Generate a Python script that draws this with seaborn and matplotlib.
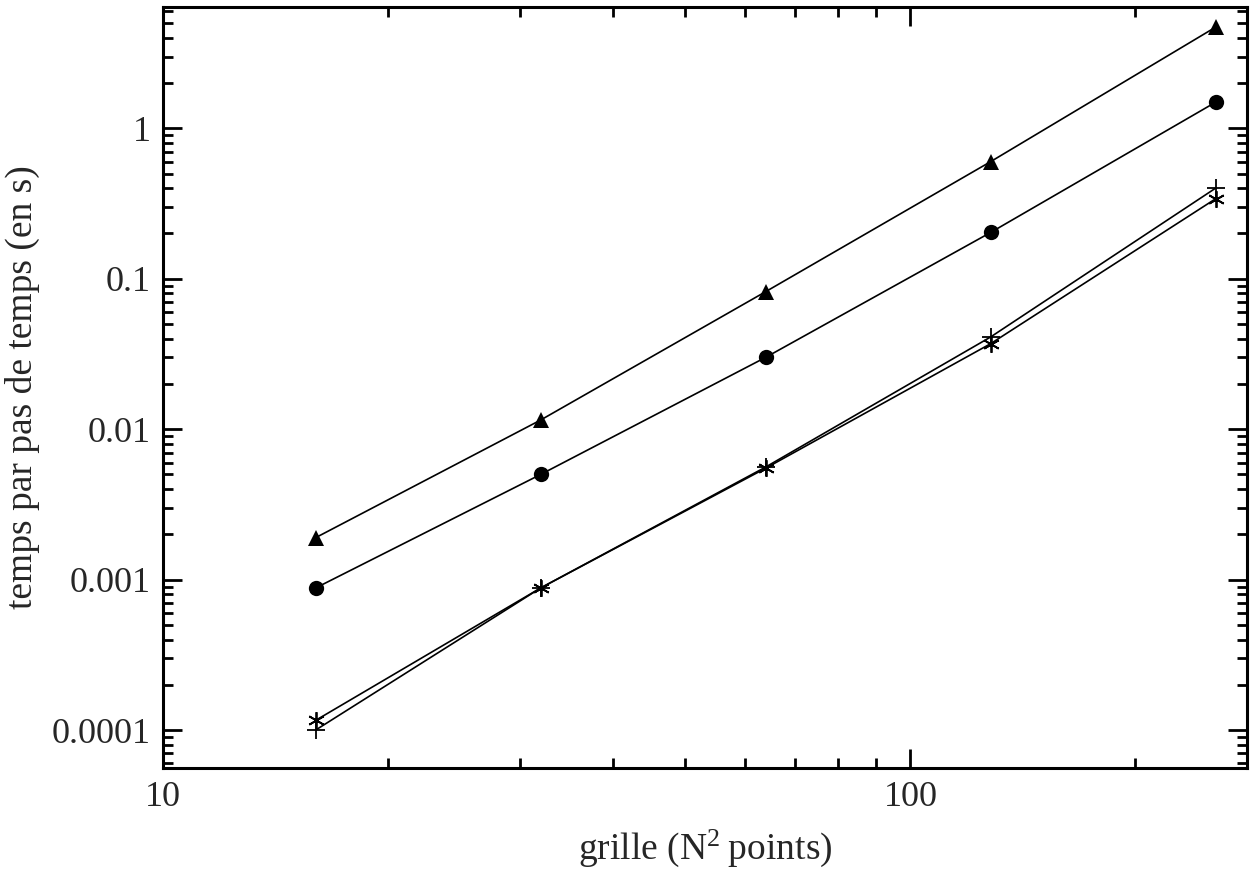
import numpy as np
import pandas as pd
import matplotlib
matplotlib.use("Agg")
import matplotlib.pyplot as plt
from matplotlib.ticker import LogLocator, NullFormatter, FixedLocator, FixedFormatter
import seaborn as sns

# Grid sizes (N) and time per step (s) for each method
grid_n = [16, 32, 64, 128, 256]
t_triangle = [0.0019, 0.0115, 0.082, 0.60, 4.7]
t_circle = [0.00088, 0.0050, 0.030, 0.203, 1.49]
t_plus = [0.000100, 0.00088, 0.0056, 0.041, 0.40]
t_star = [0.000116, 0.00088, 0.0055, 0.037, 0.34]

x_ticks = [10, 100]
x_tick_labels = ["10", "100"]
y_ticks = [0.0001, 0.001, 0.01, 0.1, 1]
y_tick_labels = ["0.0001", "0.001", "0.01", "0.1", "1"]

sns.set_theme(style="white")
plt.rcParams["font.family"] = ["Liberation Serif", "DejaVu Serif"]
plt.rcParams["mathtext.fontset"] = "custom"
plt.rcParams["mathtext.rm"] = "Liberation Serif"
plt.rcParams["mathtext.it"] = "Liberation Serif"

fig = plt.figure(figsize=(12.58, 8.76), dpi=100)
ax = fig.add_axes([163 / 1258, 1 - 768 / 876, (1247 - 163) / 1258, (768 - 7) / 876])

series = [
    (t_triangle, "^", 11, 0),
    (t_circle, "o", 11, 0),
    (t_plus, "+", 13, 1.3),
    (t_star, (6, 2, 0), 12, 1.3),
]
for vals, mk, ms, mew in series:
    df = pd.DataFrame({"N": grid_n, "t": vals})
    sns.lineplot(data=df, x="N", y="t", ax=ax, color="black", linewidth=1.2,
                 marker=mk, markersize=ms, markeredgewidth=mew,
                 markeredgecolor="black", markerfacecolor="black")

ax.set_xscale("log")
ax.set_yscale("log")
ax.set_xlim(10, 282)
ax.set_ylim(5.6e-5, 6.4)

ax.xaxis.set_major_locator(FixedLocator(x_ticks))
ax.xaxis.set_major_formatter(FixedFormatter(x_tick_labels))
ax.yaxis.set_major_locator(FixedLocator(y_ticks))
ax.yaxis.set_major_formatter(FixedFormatter(y_tick_labels))
ax.xaxis.set_minor_locator(LogLocator(base=10, subs=np.arange(2, 10)))
ax.yaxis.set_minor_locator(LogLocator(base=10, subs=np.arange(2, 10)))
ax.xaxis.set_minor_formatter(NullFormatter())
ax.yaxis.set_minor_formatter(NullFormatter())

ax.tick_params(which="both", direction="in", top=True, right=True,
               bottom=True, left=True, color="black", width=2.0)
ax.tick_params(which="major", length=14, labelsize=26, pad=9)
ax.tick_params(which="minor", length=7)

for sp in ax.spines.values():
    sp.set_visible(True)
    sp.set_color("black")
    sp.set_linewidth(2.2)

ax.set_xlabel("grille (N$^{2}$\u2009points)", fontsize=27, labelpad=10)
ax.set_ylabel("temps par pas de temps (en s)", fontsize=27, labelpad=8)

fig.savefig("out.png", dpi=100, facecolor="white")
